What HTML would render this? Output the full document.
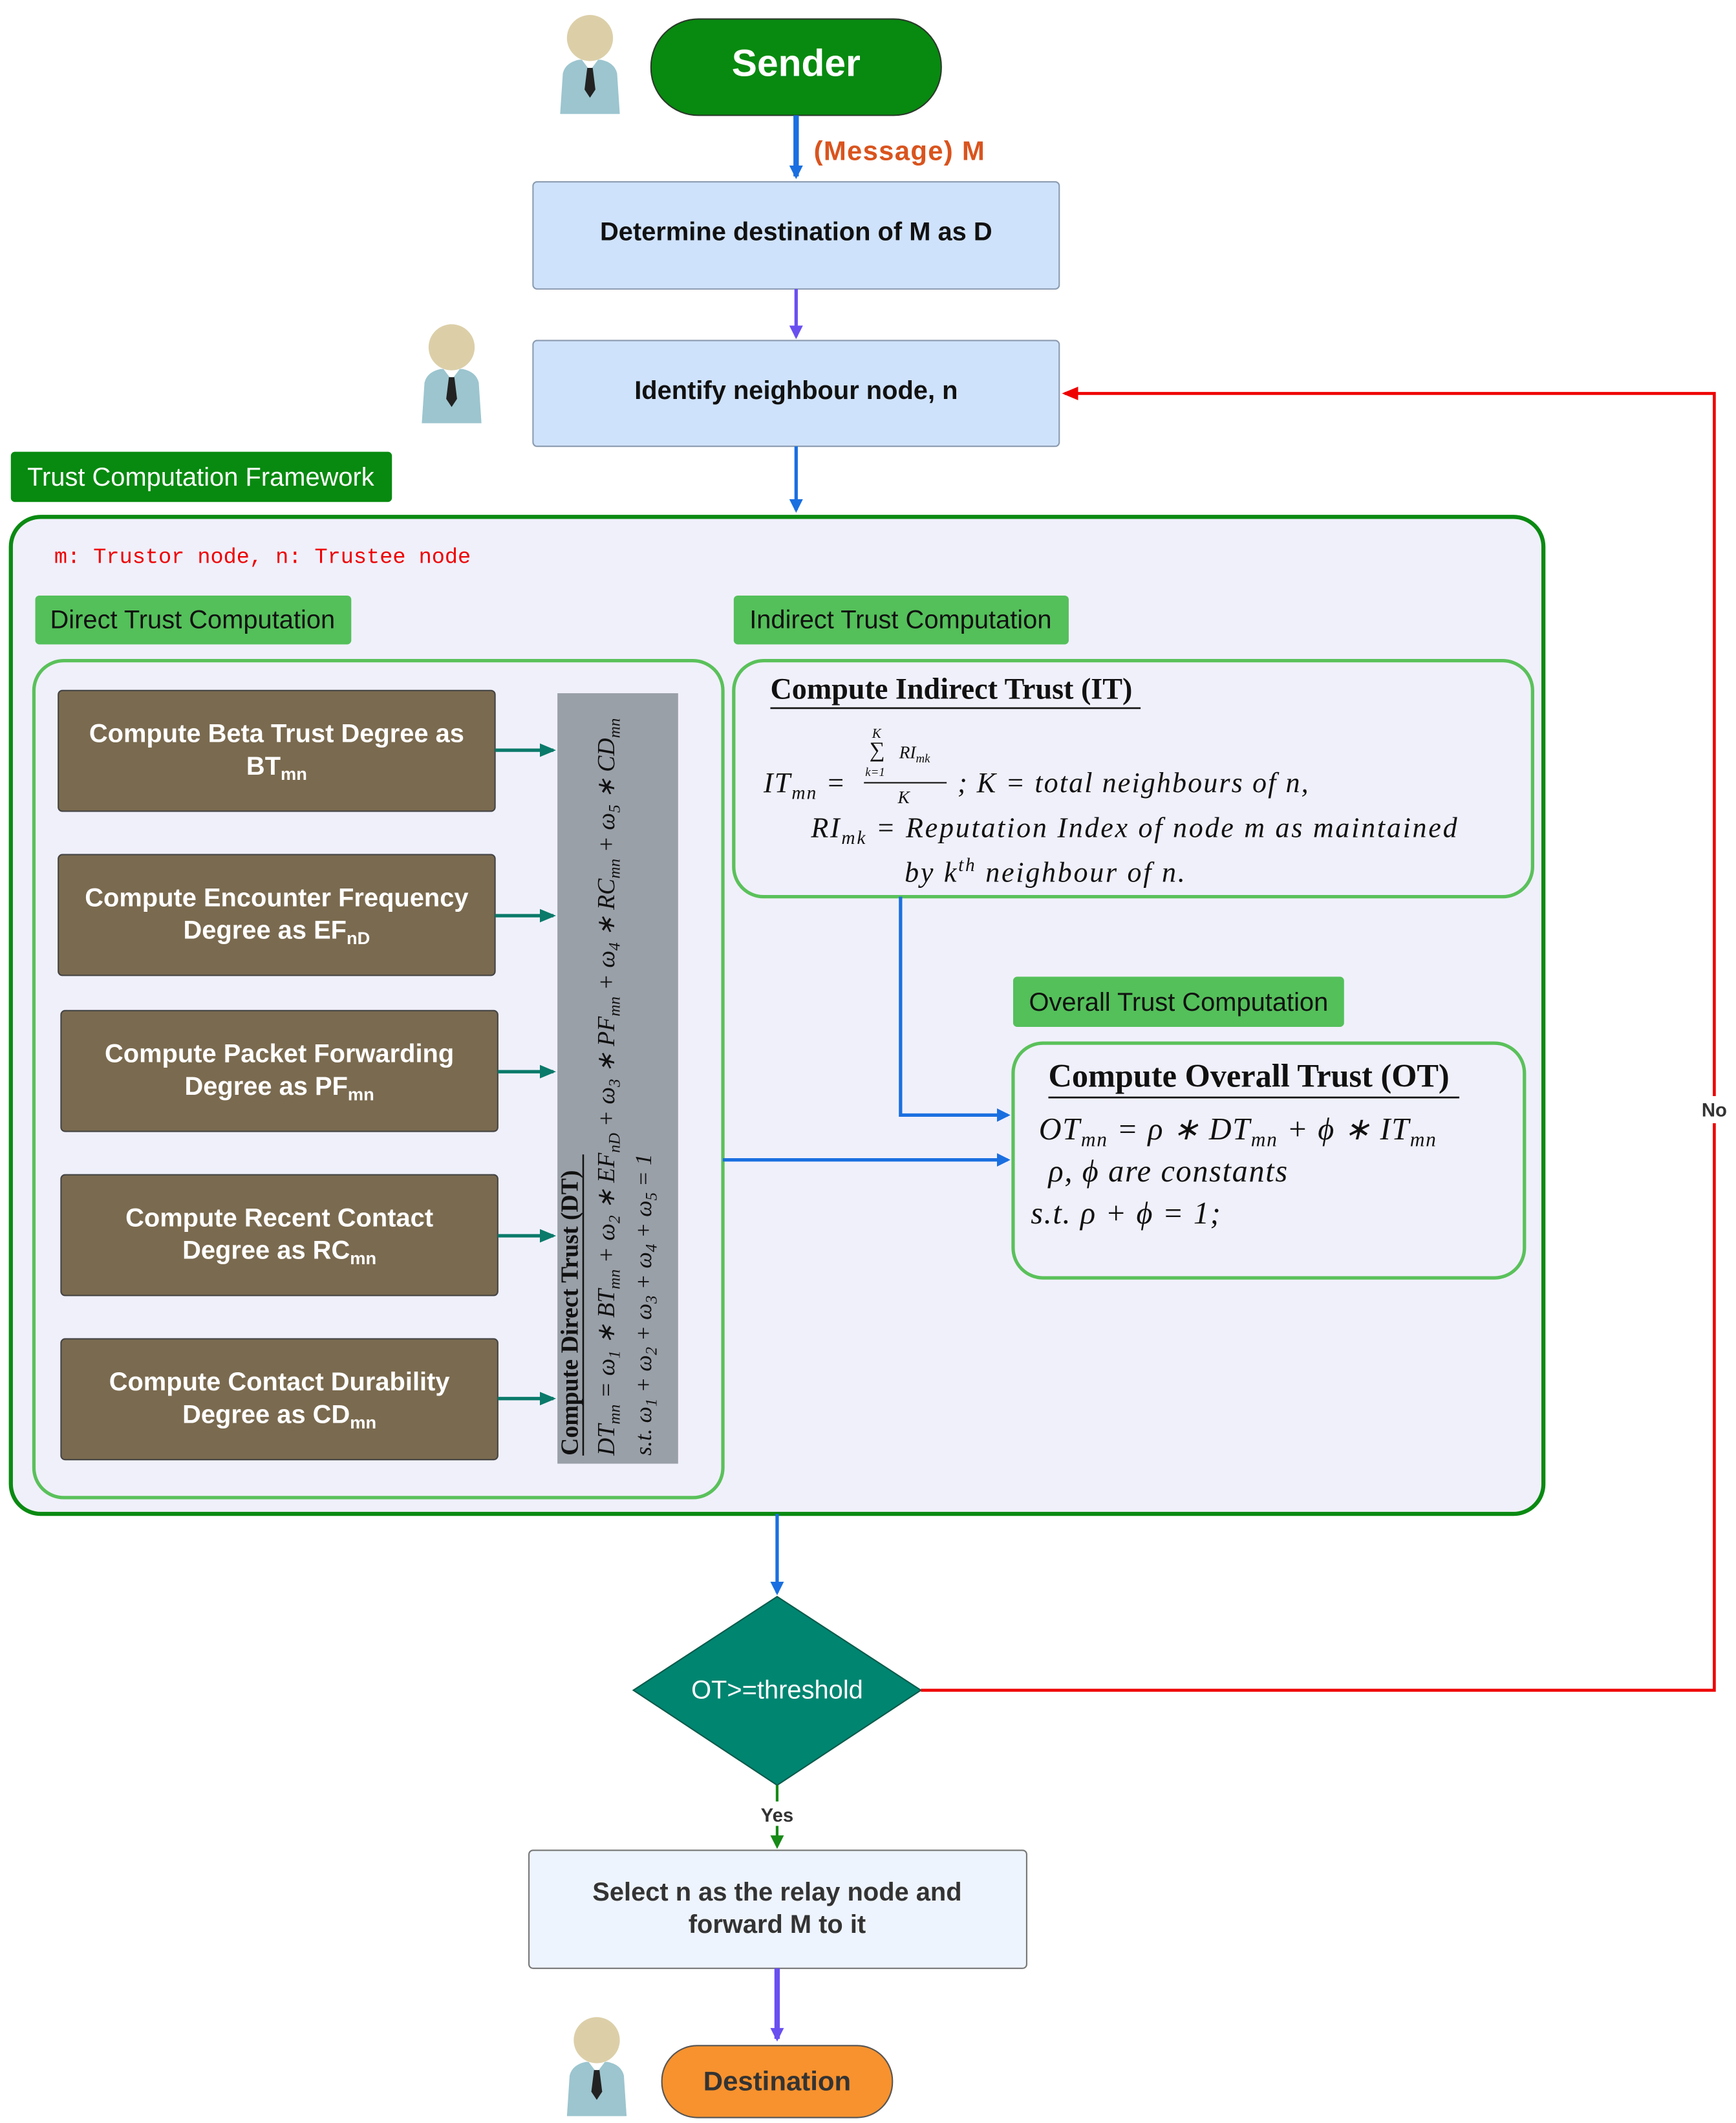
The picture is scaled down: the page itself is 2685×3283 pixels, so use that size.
<!DOCTYPE html>
<html><head><meta charset="utf-8"><style>
html,body{margin:0;padding:0;background:#fff;}
svg{display:block;}
.s{font-family:"Liberation Sans",sans-serif;}
.m{font-family:"Liberation Serif",serif;font-style:italic;}
.b{font-family:"Liberation Serif",serif;font-weight:bold;}
</style></head><body>
<svg width="2685" height="3283" viewBox="0 0 1280 1565" xmlns="http://www.w3.org/2000/svg">
<defs>
<marker id="ab" markerWidth="10" markerHeight="10" refX="8" refY="5" orient="auto" markerUnits="userSpaceOnUse"><path d="M0,0 L10,5 L0,10 z" fill="#1a6fe0"/></marker>
<marker id="ap" markerWidth="10" markerHeight="10" refX="8" refY="5" orient="auto" markerUnits="userSpaceOnUse"><path d="M0,0 L10,5 L0,10 z" fill="#6a4ff0"/></marker>
<marker id="at" markerWidth="12" markerHeight="10" refX="10" refY="5" orient="auto" markerUnits="userSpaceOnUse"><path d="M0,0 L12,5 L0,10 z" fill="#0a7a6a"/></marker>
<marker id="ar" markerWidth="12" markerHeight="10" refX="10" refY="5" orient="auto" markerUnits="userSpaceOnUse"><path d="M0,0 L12,5 L0,10 z" fill="#e00"/></marker>
<marker id="ag" markerWidth="10" markerHeight="10" refX="8" refY="5" orient="auto" markerUnits="userSpaceOnUse"><path d="M0,0 L10,5 L0,10 z" fill="#178a17"/></marker>
<g id="person">
<path d="M-22,38 L-20,8 Q-18,0 -8,-2 L8,-2 Q18,0 20,8 L22,38 Z" fill="#9cc5cf"/>
<path d="M-6,-2 L0,6 L6,-2 Z" fill="#fff"/>
<path d="M-2,4 L2,4 L4,20 L0,26 L-4,20 Z" fill="#222"/>
<circle cx="0" cy="-18" r="17" fill="#dccfa8"/>
</g>
</defs>

<use href="#person" x="435" y="46"/>
<use href="#person" x="333" y="274"/>
<use href="#person" x="440" y="1522"/>

<rect x="480" y="14" width="214" height="71" rx="35" fill="#078a0f" stroke="#2a3a2a" stroke-width="1"/>
<text x="587" y="56" text-anchor="middle" class="s" font-size="28" font-weight="bold" fill="#fff">Sender</text>
<line x1="587" y1="85" x2="587" y2="130" stroke="#1a6fe0" stroke-width="4" marker-end="url(#ab)"/>
<text x="600" y="118" class="s" font-size="20" font-weight="bold" fill="#d9541e" letter-spacing="0.6">(Message) M</text>

<rect x="393" y="134" width="388" height="79" rx="3" fill="#cfe2fb" stroke="#8a9bb0"/>
<text x="587" y="177" text-anchor="middle" class="s" font-size="19" font-weight="bold" fill="#111">Determine destination of M as D</text>
<line x1="587" y1="213" x2="587" y2="248" stroke="#6a4ff0" stroke-width="2.5" marker-end="url(#ap)"/>

<rect x="393" y="251" width="388" height="78" rx="3" fill="#cfe2fb" stroke="#8a9bb0"/>
<text x="587" y="294" text-anchor="middle" class="s" font-size="19" font-weight="bold" fill="#111">Identify neighbour node, n</text>
<line x1="587" y1="329" x2="587" y2="376" stroke="#1a6fe0" stroke-width="2.5" marker-end="url(#ab)"/>

<rect x="8" y="333" width="281" height="37" rx="3" fill="#078a0f"/>
<text x="148" y="358" text-anchor="middle" class="s" font-size="19" fill="#fff">Trust Computation Framework</text>

<rect x="8" y="381" width="1130" height="735" rx="22" fill="#f0f0fb" stroke="#0a8a12" stroke-width="3"/>
<text x="40" y="415" font-family="Liberation Mono,monospace" font-size="16" fill="#e00">m: Trustor node, n: Trustee node</text>

<rect x="26" y="439" width="233" height="36" rx="3" fill="#54c05a"/>
<text x="142" y="463" text-anchor="middle" class="s" font-size="19" fill="#111">Direct Trust Computation</text>

<rect x="25" y="487" width="508" height="617" rx="22" fill="none" stroke="#5ac15a" stroke-width="2.5"/>

<g class="s" font-size="19" font-weight="bold" fill="#fff" text-anchor="middle">
<rect x="43" y="509" width="322" height="89" rx="3" fill="#7a6a4f" stroke="#444"/>
<text x="204" y="547">Compute Beta Trust Degree as</text>
<text x="204" y="571">BT<tspan font-size="13" dy="4">mn</tspan></text>
<rect x="43" y="630" width="322" height="89" rx="3" fill="#7a6a4f" stroke="#444"/>
<text x="204" y="668">Compute Encounter Frequency</text>
<text x="204" y="692">Degree as EF<tspan font-size="13" dy="4">nD</tspan></text>
<rect x="45" y="745" width="322" height="89" rx="3" fill="#7a6a4f" stroke="#444"/>
<text x="206" y="783">Compute Packet Forwarding</text>
<text x="206" y="807">Degree as PF<tspan font-size="13" dy="4">mn</tspan></text>
<rect x="45" y="866" width="322" height="89" rx="3" fill="#7a6a4f" stroke="#444"/>
<text x="206" y="904">Compute Recent Contact</text>
<text x="206" y="928">Degree as RC<tspan font-size="13" dy="4">mn</tspan></text>
<rect x="45" y="987" width="322" height="89" rx="3" fill="#7a6a4f" stroke="#444"/>
<text x="206" y="1025">Compute Contact Durability</text>
<text x="206" y="1049">Degree as CD<tspan font-size="13" dy="4">mn</tspan></text>
</g>
<g stroke="#0a7a6a" stroke-width="2.5">
<line x1="365" y1="553" x2="408" y2="553" marker-end="url(#at)"/>
<line x1="365" y1="675" x2="408" y2="675" marker-end="url(#at)"/>
<line x1="367" y1="790" x2="408" y2="790" marker-end="url(#at)"/>
<line x1="367" y1="911" x2="408" y2="911" marker-end="url(#at)"/>
<line x1="367" y1="1031" x2="408" y2="1031" marker-end="url(#at)"/>
</g>

<rect x="411" y="511" width="89" height="568" fill="#9aa0a8"/>
<g transform="translate(426,1073) rotate(-90)">
<text x="0" y="0" class="b" font-size="18" fill="#111">Compute Direct Trust (DT)</text>
<line x1="0" y1="4" x2="222" y2="4" stroke="#111" stroke-width="1.2"/>
<text x="0" y="27" class="m" font-size="18" fill="#111">DT<tspan font-size="12" dy="4">mn</tspan><tspan dy="-4"> = ω</tspan><tspan font-size="12" dy="4">1</tspan><tspan dy="-4"> ∗ BT</tspan><tspan font-size="12" dy="4">mn</tspan><tspan dy="-4"> + ω</tspan><tspan font-size="12" dy="4">2</tspan><tspan dy="-4"> ∗ EF</tspan><tspan font-size="12" dy="4">nD</tspan><tspan dy="-4"> + ω</tspan><tspan font-size="12" dy="4">3</tspan><tspan dy="-4"> ∗ PF</tspan><tspan font-size="12" dy="4">mn</tspan><tspan dy="-4"> + ω</tspan><tspan font-size="12" dy="4">4</tspan><tspan dy="-4"> ∗ RC</tspan><tspan font-size="12" dy="4">mn</tspan><tspan dy="-4"> + ω</tspan><tspan font-size="12" dy="4">5</tspan><tspan dy="-4"> ∗ CD</tspan><tspan font-size="12" dy="4">mn</tspan></text>
<text x="0" y="54" class="m" font-size="17" fill="#111">s.t. ω<tspan font-size="12" dy="4">1</tspan><tspan dy="-4"> + ω</tspan><tspan font-size="12" dy="4">2</tspan><tspan dy="-4"> + ω</tspan><tspan font-size="12" dy="4">3</tspan><tspan dy="-4"> + ω</tspan><tspan font-size="12" dy="4">4</tspan><tspan dy="-4"> + ω</tspan><tspan font-size="12" dy="4">5</tspan><tspan dy="-4"> = 1</tspan></text>
</g>

<rect x="541" y="439" width="247" height="36" rx="3" fill="#54c05a"/>
<text x="664" y="463" text-anchor="middle" class="s" font-size="19" fill="#111">Indirect Trust Computation</text>

<rect x="541" y="487" width="589" height="174" rx="22" fill="none" stroke="#5ac15a" stroke-width="2.5"/>
<text x="568" y="515" class="b" font-size="22" fill="#111">Compute Indirect Trust (IT)</text>
<line x1="568" y1="522" x2="841" y2="522" stroke="#111" stroke-width="1.3"/>
<text x="643" y="544" class="m" font-size="10" fill="#111">K</text>
<text x="641" y="558" font-family="Liberation Serif,serif" font-size="16" fill="#111">∑</text>
<text x="638" y="572" class="m" font-size="9" fill="#111">k=1</text>
<text x="663" y="559" class="m" font-size="13" fill="#111">RI<tspan font-size="9" dy="3">mk</tspan></text>
<line x1="637" y1="577" x2="698" y2="577" stroke="#111" stroke-width="1"/>
<text x="662" y="592" class="m" font-size="13" fill="#111">K</text>
<text x="563" y="584" class="m" font-size="21" fill="#111" letter-spacing="1">IT<tspan font-size="14" dy="5">mn</tspan><tspan dy="-5"> =</tspan></text>
<text x="706" y="584" class="m" font-size="21" fill="#111" letter-spacing="1">; K = total neighbours of n,</text>
<text x="598" y="617" class="m" font-size="21" fill="#111" letter-spacing="1.3">RI<tspan font-size="14" dy="5">mk</tspan><tspan dy="-5"> = Reputation Index of node m as maintained</tspan></text>
<text x="667" y="650" class="m" font-size="21" fill="#111" letter-spacing="1.3">by k<tspan font-size="14" dy="-8">th</tspan><tspan dy="8"> neighbour of n.</tspan></text>

<polyline points="664,661 664,822 743,822" fill="none" stroke="#1a6fe0" stroke-width="2.5" marker-end="url(#ab)"/>

<rect x="747" y="720" width="244" height="37" rx="3" fill="#54c05a"/>
<text x="869" y="745" text-anchor="middle" class="s" font-size="19" fill="#111">Overall Trust Computation</text>

<rect x="747" y="769" width="377" height="173" rx="22" fill="none" stroke="#5ac15a" stroke-width="2.5"/>
<text x="773" y="801" class="b" font-size="24" fill="#111">Compute Overall Trust (OT)</text>
<line x1="773" y1="809" x2="1076" y2="809" stroke="#111" stroke-width="1.3"/>
<text x="766" y="840" class="m" font-size="23" fill="#111" letter-spacing="0.8">OT<tspan font-size="15" dy="5">mn</tspan><tspan dy="-5"> = ρ ∗ DT</tspan><tspan font-size="15" dy="5">mn</tspan><tspan dy="-5"> + ϕ ∗ IT</tspan><tspan font-size="15" dy="5">mn</tspan></text>
<text x="773" y="871" class="m" font-size="23" fill="#111" letter-spacing="0.8">ρ, ϕ are constants</text>
<text x="760" y="902" class="m" font-size="23" fill="#111" letter-spacing="0.8">s.t. ρ + ϕ = 1;</text>

<line x1="533" y1="855" x2="743" y2="855" stroke="#1a6fe0" stroke-width="2.5" marker-end="url(#ab)"/>
<line x1="573" y1="1116" x2="573" y2="1174" stroke="#1a6fe0" stroke-width="2.5" marker-end="url(#ab)"/>

<polygon points="573,1177 679,1246 573,1316 467,1246" fill="#008571" stroke="#0a5a4a"/>
<text x="573" y="1252" text-anchor="middle" class="s" font-size="19" fill="#fff">OT&gt;=threshold</text>

<polyline points="679,1246 1264,1246 1264,290 785,290" fill="none" stroke="#e00" stroke-width="2.2" marker-end="url(#ar)"/>
<rect x="1250" y="808" width="28" height="20" fill="#fff"/>
<text x="1264" y="823" text-anchor="middle" class="s" font-size="14" font-weight="bold" fill="#333">No</text>

<line x1="573" y1="1316" x2="573" y2="1361" stroke="#178a17" stroke-width="2" marker-end="url(#ag)"/>
<rect x="556" y="1328" width="34" height="18" fill="#fff"/>
<text x="573" y="1343" text-anchor="middle" class="s" font-size="14" font-weight="bold" fill="#333">Yes</text>

<rect x="390" y="1364" width="367" height="87" rx="3" fill="#eef4fd" stroke="#777"/>
<text x="573" y="1401" text-anchor="middle" class="s" font-size="19" font-weight="bold" fill="#333">Select n as the relay node and</text>
<text x="573" y="1425" text-anchor="middle" class="s" font-size="19" font-weight="bold" fill="#333">forward M to it</text>

<line x1="573" y1="1451" x2="573" y2="1503" stroke="#6a4ff0" stroke-width="4" marker-end="url(#ap)"/>

<rect x="488" y="1508" width="170" height="53" rx="26" fill="#f7922e" stroke="#555"/>
<text x="573" y="1541" text-anchor="middle" class="s" font-size="20" font-weight="bold" fill="#333">Destination</text>
</svg>
</body></html>
